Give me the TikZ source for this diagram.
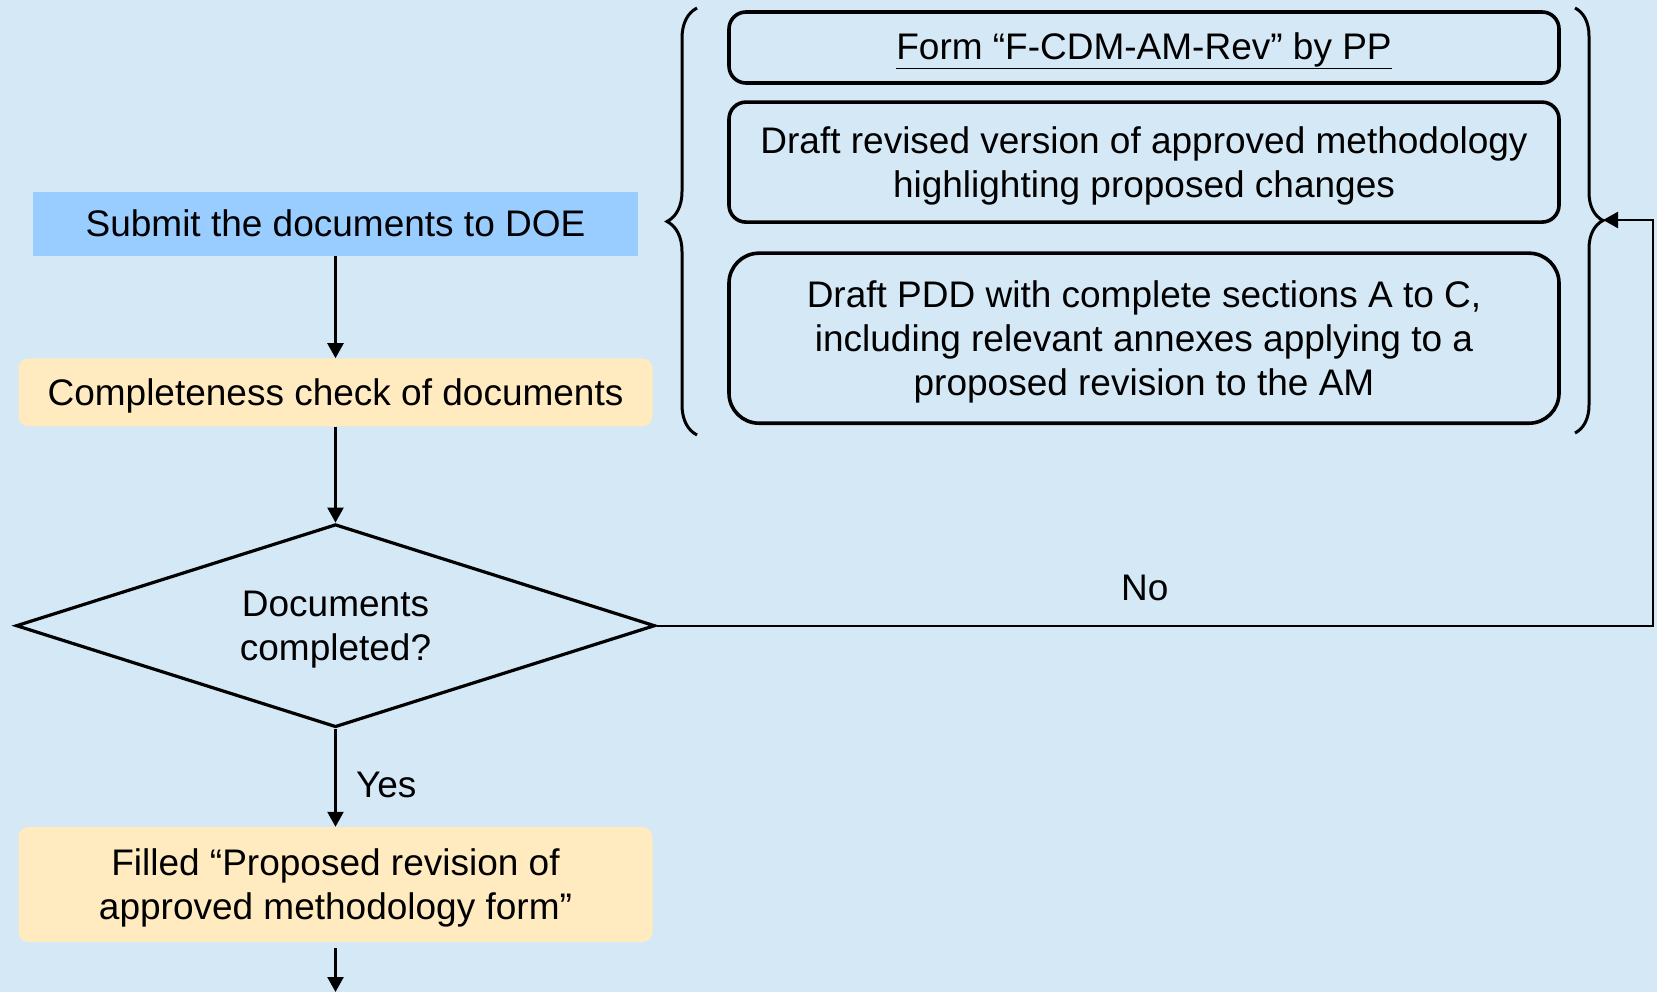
\documentclass[tikz,border=0pt]{standalone}
\usepackage{fontspec}
\setmainfont{Liberation Sans}
\usepackage{tikz}
\usetikzlibrary{shapes.geometric, arrows.meta, decorations.pathreplacing, positioning, calc}
\definecolor{bgblue}{HTML}{D5E8F6}
\definecolor{doeblue}{HTML}{99CCFF}
\definecolor{checkyellow}{HTML}{FFEBBF}
\newcommand{\linestrut}{\rule[-0.212em]{0pt}{1.117em}}
\tikzset{
  process/.style={rectangle, minimum width=605pt, minimum height=64pt, fill=doeblue, text centered}, % Define the submit style
  checkbox/.style={rectangle, rounded corners=10pt, minimum width=634pt, fill=checkyellow, align=center},
  decisionbox/.style={diamond, aspect=3.15, draw, line width=3.2pt, minimum width=639pt, minimum height=203pt, inner sep=0pt, align=center},
  document/.style={rectangle, rounded corners=17pt, draw, line width=3.6pt, minimum width=830pt, align=center},
  line/.style={draw, -{Triangle[length=15pt,width=16pt]}, line width=2.4pt},
  brace/.style={decorate, decoration={brace, amplitude=30pt}, line width=3pt}
}
\begin{document}
\begin{tikzpicture}[x=1pt, y=1pt, font=\fontsize{37}{44}\selectfont]

    % Background
    \fill[bgblue] (0,0) rectangle (1657,-992);
    \useasboundingbox (0,0) rectangle (1657,-992);

    % Nodes
    \node [process] (submit) at (335.5,-224) {\linestrut Submit the documents to DOE};
    \node [checkbox, minimum height=68pt, below=102pt of submit] (check) {\linestrut Completeness check of documents};
    \node [decisionbox, below=96pt of check] (decision) {\linestrut Documents\\completed?};
    \node [checkbox, minimum height=115pt, below=98pt of decision] (filled) {\linestrut Filled “Proposed revision of\\approved methodology form”};

    \node [document, minimum height=71pt] (form) at (1144,-47.5) {\linestrut\underline{Form “F-CDM-AM-Rev” by PP}};
    \node [document, minimum height=120pt, below=15.5pt of form] (draft) {\linestrut Draft revised version of approved methodology\\highlighting proposed changes};
    \node [document, minimum height=170pt, rounded corners=30pt, below=27.5pt of draft] (pdd) {\linestrut Draft PDD with complete sections A to C,\\including relevant annexes applying to a\\proposed revision to the AM};

    \coordinate (rbtip) at (1603,-220);
    \coordinate (turn) at (1653,-625);
    \coordinate (exit) at (335.5,-992);

    % Braces
    \draw [brace] (697,-435) -- (697,-8);
    \draw [brace, decoration={amplitude=28pt}] (1575,-8) -- (1575,-433);

    % Edges
    \draw [line] (submit) -- (check);
    \draw [line] (check) -- (decision);
    \draw [line] (decision) -- node[right, xshift=16pt, yshift=-7pt] {Yes} (filled);
    \draw [line] ([yshift=-6pt]filled.south) -- (exit);
    \draw [line] (decision.east) -- node[above, yshift=20pt, pos=0.49] {No} (decision.east -| turn) |- (rbtip);

\end{tikzpicture}
\end{document}
